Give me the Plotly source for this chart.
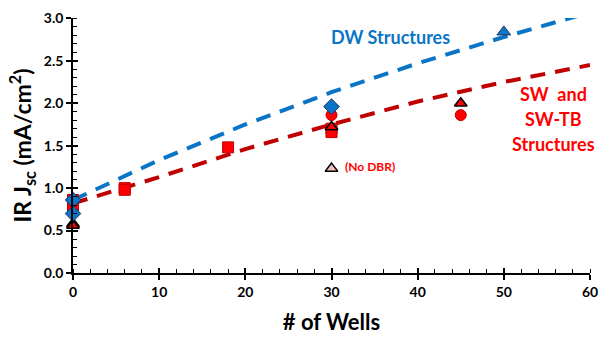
import plotly.graph_objects as go

fit_x = [0, 10, 20, 30, 40, 50, 60]
dw_fit = [0.86, 1.33, 1.75, 2.13, 2.47, 2.78, 3.07]
sw_fit = [0.82, 1.13, 1.46, 1.75, 2.02, 2.25, 2.45]

# Measured points
sq_x = [0, 0, 6, 6, 18, 30, 30]
sq_y = [0.86, 0.75, 1.00, 0.98, 1.48, 1.70, 1.66]

circ_x = [30, 45]
circ_y = [1.86, 1.86]

tri_x = [0, 0, 30, 45]
tri_y = [0.58, 0.56, 1.72, 2.00]

dia_x = [0, 0, 30]
dia_y = [0.86, 0.70, 1.96]

dwtri_x = [50]
dwtri_y = [2.84]

nodbr_x = [30]
nodbr_y = [1.23]

FONT = "Lato"
BLUE = "#0A75C7"
DRED = "#C00000"
RED = "#FF0000"
YMAX = 3.004

fig = go.Figure()

fig.add_trace(go.Scatter(x=fit_x, y=dw_fit, mode="lines",
                         line=dict(color=BLUE, width=4, dash="15px,10px"),
                         hoverinfo="skip"))
fig.add_trace(go.Scatter(x=fit_x, y=sw_fit, mode="lines",
                         line=dict(color=DRED, width=4, dash="15px,10px"),
                         hoverinfo="skip"))

fig.add_trace(go.Scatter(x=sq_x, y=sq_y, mode="markers",
                         marker=dict(symbol="square", size=11, color=RED,
                                     line=dict(color="#C00000", width=1))))
fig.add_trace(go.Scatter(x=circ_x, y=circ_y, mode="markers",
                         marker=dict(symbol="circle", size=11, color=RED,
                                     line=dict(color="#C00000", width=1))))
fig.add_trace(go.Scatter(x=tri_x, y=tri_y, mode="markers",
                         marker=dict(symbol="triangle-up", size=11, color=RED,
                                     line=dict(color="black", width=1.5))))
fig.add_trace(go.Scatter(x=dia_x, y=dia_y, mode="markers",
                         marker=dict(symbol="diamond", size=12, color=BLUE,
                                     line=dict(color="#1F3864", width=1))))
fig.add_trace(go.Scatter(x=dwtri_x, y=dwtri_y, mode="markers",
                         marker=dict(symbol="triangle-up", size=12, color=BLUE,
                                     line=dict(color="#1F3864", width=1))))
fig.add_trace(go.Scatter(x=nodbr_x, y=nodbr_y, mode="markers",
                         marker=dict(symbol="triangle-up", size=11, color="#F6BDBD",
                                     line=dict(color="black", width=1.5))))

for tr in fig.data:
    tr.cliponaxis = tr.mode == "lines"
    tr.showlegend = False

axis_common = dict(
    showgrid=False, zeroline=False, showline=True, linecolor="black", linewidth=1.5,
    ticks="outside", ticklen=5, tickwidth=1.5, tickcolor="black",
    tickfont=dict(family=FONT, size=14, color="black", weight="bold"),
)

fig.update_layout(
    width=607, height=342,
    margin=dict(l=73, r=10, t=9, b=69),
    paper_bgcolor="white", plot_bgcolor="white",
    xaxis=dict(range=[0, 60], dtick=10, tickformat="d",
               minor=dict(dtick=2, ticks="inside", ticklen=4, tickwidth=1, tickcolor="black"),
               title=dict(text="# of Wells", standoff=16,
                          font=dict(family=FONT, size=22, color="black", weight="bold")),
               **axis_common),
    yaxis=dict(range=[0, YMAX], tickvals=[0, 0.5, 1.0, 1.5, 2.0, 2.5, 3.0], tickformat=".1f",
               minor=dict(dtick=0.1, ticks="inside", ticklen=4, tickwidth=1, tickcolor="black"),
               title=dict(text="IR J<sub>sc</sub> (mA/cm<sup>2</sup>)", standoff=6,
                          font=dict(family=FONT, size=23, color="black", weight="bold")),
               **axis_common),
    # Inner halves of the major ticks, so they cross the axis lines
    xaxis2=dict(overlaying="x", matches="x", range=[0, 60], dtick=10, ticks="inside",
                ticklen=5, tickwidth=1.5, tickcolor="black", showticklabels=False,
                showgrid=False, zeroline=False, showline=False),
    yaxis2=dict(overlaying="y", matches="y", range=[0, YMAX],
                tickvals=[0, 0.5, 1.0, 1.5, 2.0, 2.5, 3.0], ticks="inside",
                ticklen=5, tickwidth=1.5, tickcolor="black", showticklabels=False,
                showgrid=False, zeroline=False, showline=False),
)

fig.add_trace(go.Scatter(x=[0], y=[0], xaxis="x2", yaxis="y2", mode="markers",
                         marker=dict(opacity=0), showlegend=False, hoverinfo="skip"))

label_font = dict(family=FONT, size=18, weight="bold")
fig.add_annotation(x=36.9, y=2.78, text="DW Structures", showarrow=False,
                   font=dict(color=BLUE, **label_font))
for txt, yy in [("SW&nbsp;&nbsp;and", 2.11), ("SW-TB", 1.82), ("Structures", 1.52)]:
    fig.add_annotation(x=55.8, y=yy, text=txt, showarrow=False,
                       font=dict(color=RED, **label_font))
fig.add_annotation(x=31.3, y=1.25, text="(No DBR)", showarrow=False, xanchor="left",
                   font=dict(family=FONT, size=12, color=RED, weight="bold"))

fig.write_html("out.html")
